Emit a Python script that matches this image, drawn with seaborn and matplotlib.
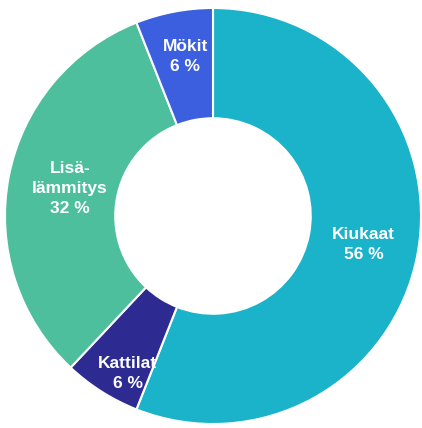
import numpy as np
import pandas as pd
import matplotlib
matplotlib.use("Agg")
import matplotlib.pyplot as plt
import seaborn as sns

labels = ["Kiukaat", "Kattilat", "Lisä-\nlämmitys", "Mökit"]
shares = [56, 6, 32, 6]
colors = ["#1AB3C9", "#2D2B92", "#4EBF9C", "#3B5FDF"]

sns.set_style("white")
plt.rcParams['font.family'] = ['Liberation Sans', 'DejaVu Sans']

fig = plt.figure(figsize=(4.22, 4.28), dpi=100)
ax = fig.add_axes([5 / 422, 4 / 428, 416 / 422, 416 / 428])

wedges, _ = ax.pie(shares, colors=colors, startangle=90, counterclock=False,
                   radius=1.0,
                   wedgeprops=dict(width=0.53, edgecolor="white", linewidth=1.5))

# label distance from centre and small angle nudge, per segment
label_r = [0.737, 0.86, 0.70, 0.78]
label_da = [0, 4, 0, -1]
for w, lab, val, r, da in zip(wedges, labels, shares, label_r, label_da):
    ang = np.deg2rad((w.theta1 + w.theta2) / 2 + da)
    x, y = r * np.cos(ang), r * np.sin(ang)
    ax.text(x, y, f"{lab}\n{val} %", ha="center", va="center", color="white",
            fontsize=12.5, fontweight="bold", linespacing=1.4)

ax.set_xlim(-1, 1)
ax.set_ylim(-1, 1)
ax.set_aspect("auto")
ax.axis("off")

fig.savefig("out.png", dpi=100, facecolor="white")
